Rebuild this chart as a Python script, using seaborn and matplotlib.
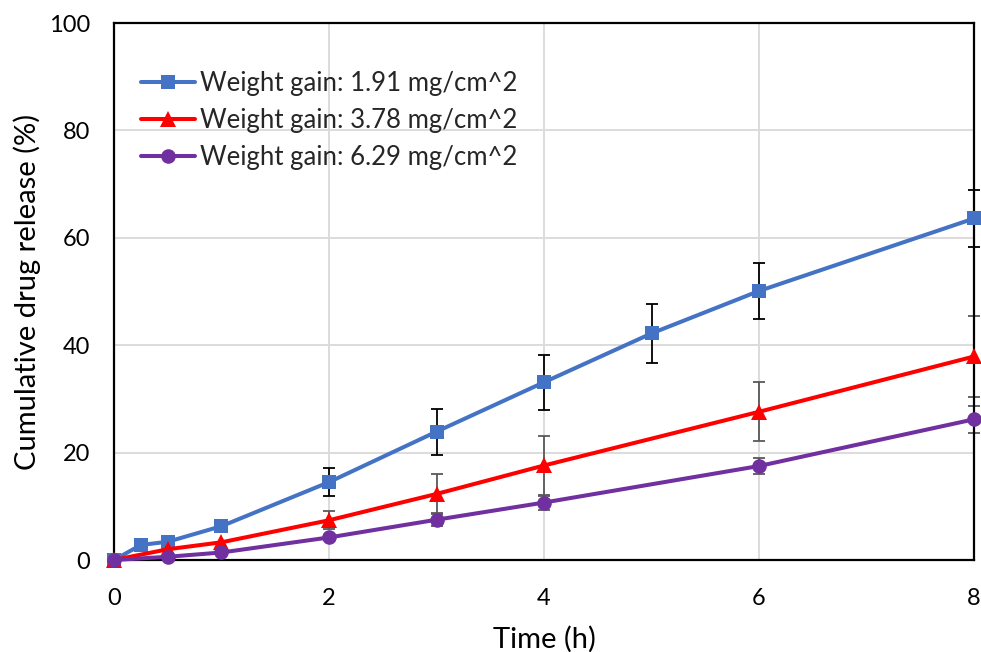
import matplotlib
matplotlib.use("Agg")
import matplotlib.pyplot as plt
import seaborn as sns
import pandas as pd
import numpy as np

# ---- data ----
t_blue = [0, 0.25, 0.5, 1, 2, 3, 4, 5, 6, 8]
y_blue = [0, 2.8, 3.4, 6.3, 14.5, 23.9, 33.1, 42.2, 50.1, 63.6]
e_blue = [0, 0, 0, 0, 2.6, 4.3, 5.1, 5.5, 5.3, 5.3]

t_red = [0, 0.5, 1, 2, 3, 4, 6, 8]
y_red = [0, 2.0, 3.3, 7.4, 12.3, 17.6, 27.6, 37.9]
e_red = [0, 0, 0, 1.7, 3.7, 5.5, 5.5, 7.6]

t_purple = [0, 0.5, 1, 2, 3, 4, 6, 8]
y_purple = [0, 0.6, 1.4, 4.2, 7.5, 10.7, 17.5, 26.2]
e_purple = [0, 0, 0, 0, 1.2, 1.3, 1.5, 2.5]

labels = ["Weight gain: 1.91 mg/cm^2", "Weight gain: 3.78 mg/cm^2", "Weight gain: 6.29 mg/cm^2"]
colors = ["#4472C4", "#FF0000", "#7030A0"]
err_colors = ["#000000", "#595959", "#595959"]
markers = ["s", "^", "o"]
x_ticks = [0, 2, 4, 6, 8]
y_ticks = [0, 20, 40, 60, 80, 100]

sns.set_theme(style="white")
plt.rcParams['font.family'] = ['Lato', 'DejaVu Sans']

fig = plt.figure(figsize=(9.81, 6.52), dpi=100)
ax = fig.add_axes([0.1162, 0.1411, 0.8767, 0.8236])

series = [(t_blue, y_blue, e_blue), (t_red, y_red, e_red), (t_purple, y_purple, e_purple)]
for i, (t, y, e) in enumerate(series):
    df = pd.DataFrame({"t": t, "y": y})
    ax.errorbar(t, y, yerr=e, fmt="none", ecolor=err_colors[i], elinewidth=1.3,
                capsize=4, capthick=1.3, zorder=2, clip_on=False)
    sns.lineplot(data=df, x="t", y="y", ax=ax, color=colors[i], marker=markers[i],
                 markersize=10.5 if markers[i] != "^" else 11.5, markeredgewidth=0,
                 linewidth=2.9, label=labels[i], zorder=3, clip_on=False,
                 estimator=None, sort=False)

ax.set_xlim(0, 8)
ax.set_ylim(0, 100)
ax.set_xticks(x_ticks)
ax.set_yticks(y_ticks)
ax.grid(True, color="#D9D9D9", linewidth=1.3)
ax.set_axisbelow(True)
for s in ax.spines.values():
    s.set_color("black")
    s.set_linewidth(1.6)
ax.tick_params(axis="both", length=0, labelsize=17, colors="black")
ax.tick_params(axis="x", pad=20)
ax.tick_params(axis="y", pad=17)
ax.set_xlabel("Time (h)", fontsize=21, color="black", labelpad=12)
ax.set_ylabel("Cumulative drug release (%)", fontsize=21, color="black", labelpad=6)

leg = ax.legend(loc="upper left", bbox_to_anchor=(0.0314, 0.9115), frameon=False,
                fontsize=18.5, handlelength=2.1, handletextpad=0.2,
                labelspacing=0.48, borderaxespad=0, borderpad=0)

fig.savefig("out.png", dpi=100)
